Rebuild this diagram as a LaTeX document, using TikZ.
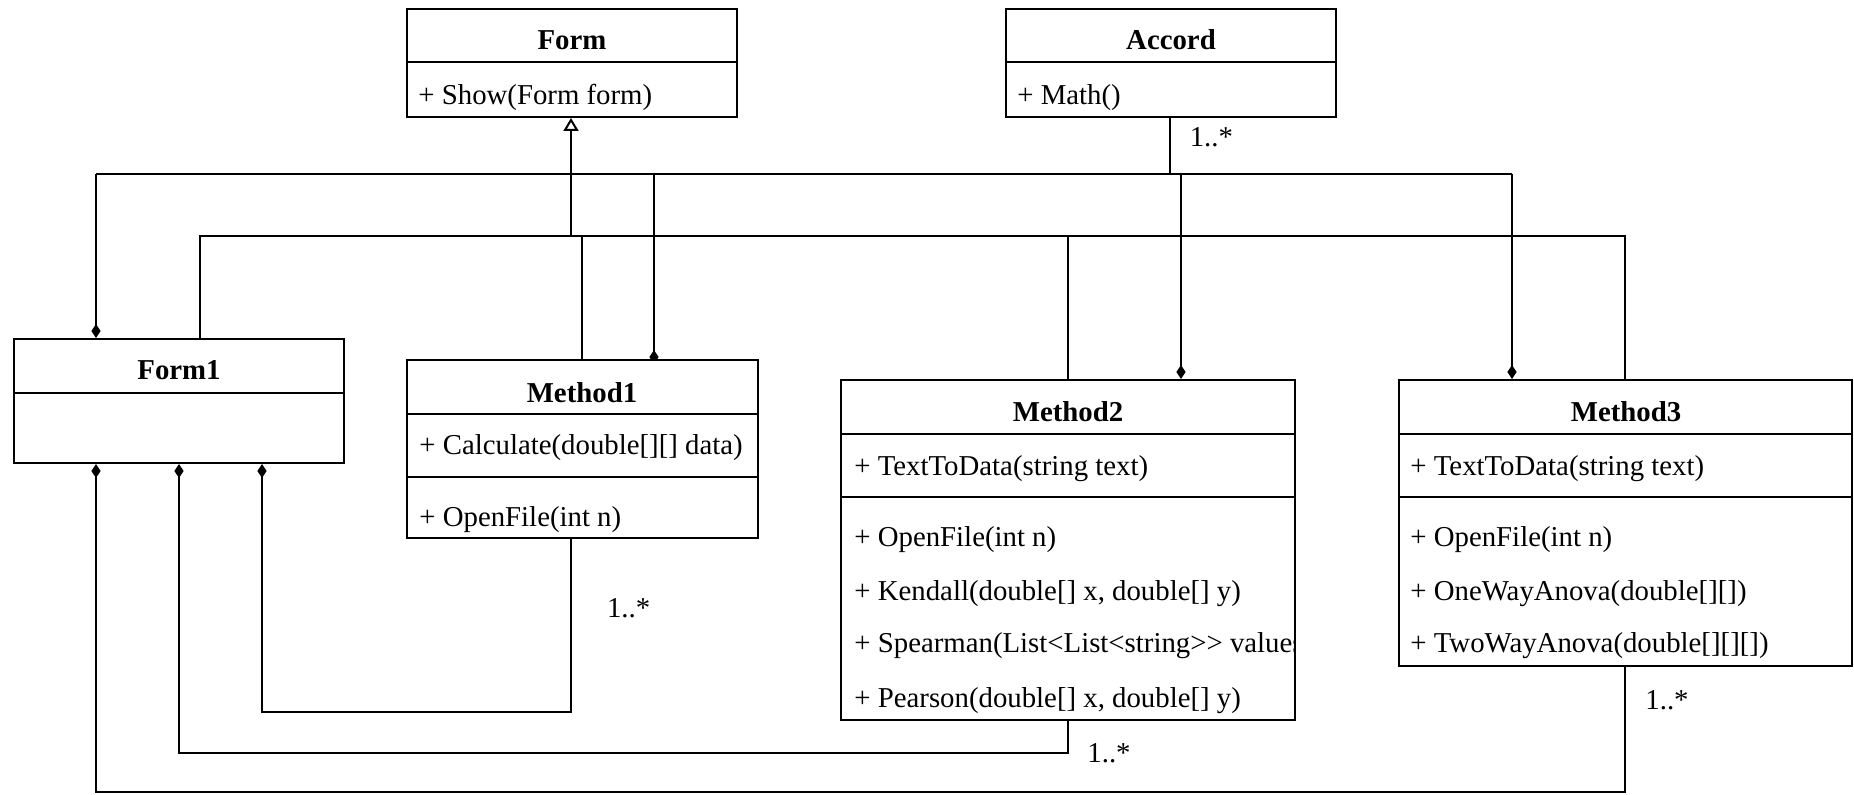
\documentclass[tikz,border=0pt]{standalone}
\usepackage{fontspec}
\setmainfont{Liberation Serif}[Ligatures=TeXOff]
\usetikzlibrary{arrows.meta,fit}
\pgfdeclarelayer{background}
\pgfsetlayers{background,main}
\begin{document}
\begin{tikzpicture}[x=0.5pt,y=-0.5pt,
  classbox/.style={draw, line width=1pt, fill=white, inner sep=0pt},
  divider/.style={line width=1pt},
  conn/.style={line width=1pt},
  comp/.style={conn, -{Diamond[length=7pt,width=4.6pt]}},
  compstart/.style={conn, {Diamond[length=7pt,width=4.6pt]}-},
  gen/.style={conn, -{Triangle[open,length=6.5pt,width=7.5pt,line width=1pt]}},
  ctitle/.style={font=\fontsize{14.4}{17}\selectfont\bfseries, inner sep=0pt, text height=9.5pt, text depth=0pt},
  member/.style={font=\fontsize{14.4}{17}\selectfont, anchor=west, inner sep=0pt, text height=9.5pt, text depth=0pt},
  mult/.style={font=\fontsize{14.4}{17}\selectfont, inner sep=0pt, text height=9.5pt, text depth=0pt}]
\useasboundingbox (0,0) rectangle (1854,795);

% ---------- classes ----------
\node[classbox, fit={(407,9) (737,117)}] (form) {};
\draw[divider] (form.west |- 0,62) -- (form.east |- 0,62);
\node[ctitle] (formT) at (572,40) {Form};
\node[member] (formM) at (418,95) {+ Show(Form form)};

\node[classbox, fit={(1006,9) (1336,117)}] (accord) {};
\draw[divider] (accord.west |- 0,62) -- (accord.east |- 0,62);
\node[ctitle] (accordT) at (1171,40) {Accord};
\node[member] (accordM) at (1017,95) {+ Math()};

\node[classbox, fit={(14,339) (344,463)}] (form1) {};
\draw[divider] (form1.west |- 0,393) -- (form1.east |- 0,393);
\node[ctitle] (form1T) at (179,370) {Form1};

\node[classbox, fit={(407,360) (758,538)}] (method1) {};
\draw[divider] (method1.west |- 0,414) -- (method1.east |- 0,414);
\draw[divider] (method1.west |- 0,477) -- (method1.east |- 0,477);
\node[ctitle] (m1T) at (582,393) {Method1};
\node[member] (m1a) at (419,445) {+ Calculate(double[][] data)};
\node[member] (m1b) at (419,516.7) {+ OpenFile(int n)};

\node[classbox, fit={(841,380) (1295,720)}] (method2) {};
\draw[divider] (method2.west |- 0,434) -- (method2.east |- 0,434);
\draw[divider] (method2.west |- 0,497) -- (method2.east |- 0,497);
\node[ctitle] (m2T) at (1068,411.7) {Method2};
\node[member] (m2a) at (854,466) {+ TextToData(string text)};
\node[member] (m2b) at (854,536.7) {+ OpenFile(int n)};
\node[member] (m2c) at (854,590.7) {+ Kendall(double[] x, double[] y)};
\begin{scope}
  \clip (841,600) rectangle (1294,690);
  \node[member] (m2d) at (854,643.3) {+ Spearman(List<List<string>> values)};
\end{scope}
\node[member] (m2e) at (854,698.3) {+ Pearson(double[] x, double[] y)};

\node[classbox, fit={(1399,380) (1852,666)}] (method3) {};
\draw[divider] (method3.west |- 0,434) -- (method3.east |- 0,434);
\draw[divider] (method3.west |- 0,497) -- (method3.east |- 0,497);
\node[ctitle] (m3T) at (1626,411.7) {Method3};
\node[member] (m3a) at (1410,466) {+ TextToData(string text)};
\node[member] (m3b) at (1410,536.7) {+ OpenFile(int n)};
\node[member] (m3c) at (1410,590.7) {+ OneWayAnova(double[][])};
\node[member] (m3d) at (1410,643.3) {+ TwoWayAnova(double[][][])};

% ---------- junction points ----------
\coordinate (a0) at (1170,174);
\coordinate (a1) at (96,174);
\coordinate (a2) at (654,174);
\coordinate (a3) at (1181,174);
\coordinate (a4) at (1512,174);
\coordinate (g0) at (571,236);
\coordinate (g1) at (200,236);
\coordinate (g2) at (582,236);
\coordinate (g3) at (1068,236);
\coordinate (g4) at (1625,236);
\coordinate (m1hide) at (654,364);
\coordinate (c1) at (571,712);
\coordinate (c2) at (1068,753);
\coordinate (c3) at (1625,792);

\begin{pgfonlayer}{background}
% composition from Accord
\draw[conn] (accord.south -| a0) -- (a0);
\draw[conn] (a1) -- (a4);
\draw[comp] (a1) -- (form1.north -| a1);
\draw[comp] (a2) -- (m1hide);
\draw[comp] (a3) -- (method2.north -| a3);
\draw[comp] (a4) -- (method3.north -| a4);

% generalization to Form
\draw[gen] (g0) -- (form.south -| g0);
\draw[conn] (form1.north -| g1) -- (g1) -- (g4) -- (method3.north -| g4);
\draw[conn] (g2) -- (method1.north -| g2);
\draw[conn] (g3) -- (method2.north -| g3);

% composition from Form1
\draw[compstart] (form1.south -| 262,0) |- (c1) -- (method1.south -| c1);
\draw[compstart] (form1.south -| 179,0) |- (c2) -- (method2.south -| c2);
\draw[compstart] (form1.south -| 96,0) |- (c3) -- (method3.south -| c3);
\end{pgfonlayer}

% ---------- multiplicities ----------
\node[mult] (mAcc) at (1211.4,136.7) {1..*};
\node[mult] (mM1) at (628.6,608) {1..*};
\node[mult] (mM2) at (1109,753) {1..*};
\node[mult] (mM3) at (1667,700) {1..*};
\end{tikzpicture}
\end{document}
